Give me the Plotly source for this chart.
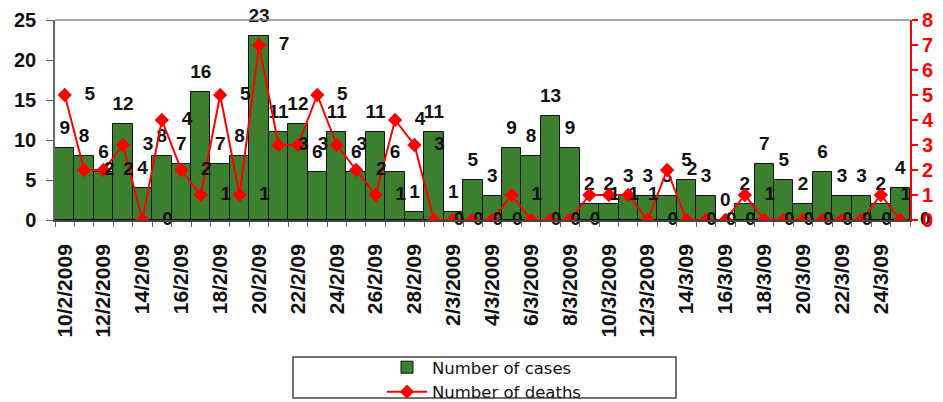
import plotly.graph_objects as go

# Jours du 10/2/2009 au 25/3/2009
dates = (
    [f"{d}/2/2009" for d in range(10, 29)]
    + [f"{d}/3/2009" for d in range(1, 26)]
)

cases = [9, 8, 6, 12, 4, 8, 7, 16, 7, 8, 23, 11, 12, 6, 11, 6, 11, 6, 1, 11,
         1, 5, 3, 9, 8, 13, 9, 2, 2, 3, 3, 3, 5, 3, 0, 2, 7, 5, 2, 6,
         3, 3, 2, 4]

deaths = [5, 2, 2, 3, 0, 4, 2, 1, 5, 1, 7, 3, 3, 5, 3, 2, 1, 4, 3, 0,
          0, 0, 0, 1, 0, 0, 0, 1, 1, 1, 0, 2, 0, 0, 0, 1, 0, 0, 0, 0,
          0, 0, 1, 0]

# libellés affichés (un jour sur deux)
tick_labels = ["10/2/2009", "12/2/2009", "14/2/09", "16/2/09", "18/2/09",
               "20/2/09", "22/2/09", "24/2/09", "26/2/09", "28/2/09",
               "2/3/2009", "4/3/2009", "6/3/2009", "8/3/2009", "10/3/2009",
               "12/3/2009", "14/3/09", "16/3/09", "18/3/09", "20/3/09",
               "22/3/09", "24/3/09"]

GREEN = "#3c7f2e"
RED = "#ff0000"
FONT = "Liberation Sans, Arial, sans-serif"

ticktext = []
for i in range(len(dates)):
    ticktext.append(tick_labels[i // 2] if i % 2 == 0 else "")

fig = go.Figure()

fig.add_trace(go.Bar(
    x=dates, y=cases, name="Number of cases",
    marker=dict(color=GREEN, line=dict(color="#111111", width=1)),
    yaxis="y",
))

fig.add_trace(go.Scatter(
    x=dates, y=deaths, name="Number of deaths", yaxis="y2",
    mode="lines+markers",
    line=dict(color=RED, width=2),
    marker=dict(symbol="diamond", size=11, color=RED),
))

# étiquettes des barres (au-dessus)
fig.add_trace(go.Scatter(
    x=dates, y=cases, yaxis="y", mode="text+markers",
    marker=dict(size=14, opacity=0),
    text=[str(v) for v in cases], textposition="top center",
    textfont=dict(family=FONT, size=19, color="#111111", weight="bold"),
    showlegend=False, hoverinfo="skip", cliponaxis=False,
))

# étiquettes des décès (à droite)
fig.add_trace(go.Scatter(
    x=dates, y=deaths, yaxis="y2", mode="text+markers",
    marker=dict(size=30, opacity=0),
    text=[str(v) for v in deaths], textposition="middle right",
    textfont=dict(family=FONT, size=19, color="#111111", weight="bold"),
    showlegend=False, hoverinfo="skip", cliponaxis=False,
))

# la page HTML ajoute 8 px de marge : figure réduite d'autant
fig.update_layout(
    width=935, height=394,
    margin=dict(l=47, r=33, t=12, b=182, autoexpand=False),
    plot_bgcolor="white", paper_bgcolor="white",
    bargap=0,
    font=dict(family=FONT, color="#111111"),
    xaxis=dict(
        type="category", tickmode="array", tickvals=dates, ticktext=ticktext,
        range=[-0.5, len(dates) - 0.5],
        tickson="boundaries", tickangle=-90, ticks="outside", ticklen=5,
        tickcolor="#666666", automargin=False, ticklabelstandoff=14,
        tickfont=dict(family=FONT, size=21, color="#111111", weight="bold"),
        showline=True, linecolor="#444444", linewidth=1.5, showgrid=False,
    ),
    yaxis=dict(
        range=[0, 25], dtick=5, ticks="outside", ticklen=7, automargin=False,
        tickcolor="#666666", showline=True, linecolor="#666666", linewidth=1.5,
        showgrid=False, zeroline=False, ticklabelstandoff=6,
        tickfont=dict(family=FONT, size=20, color="#111111", weight="bold"),
    ),
    yaxis2=dict(
        range=[0, 8], dtick=1, overlaying="y", side="right", automargin=False,
        ticks="outside", ticklen=6, tickcolor=RED, tickwidth=2,
        showline=True, linecolor=RED, linewidth=2,
        showgrid=False, zeroline=False,
        tickfont=dict(family=FONT, size=20, color=RED, weight="bold"),
    ),
    legend=dict(
        x=(382 - 55) / 855, y=-(350 - 220) / 200,
        xanchor="left", yanchor="top",
        bgcolor="rgba(0,0,0,0)", borderwidth=0,
        font=dict(family="DejaVu Sans, sans-serif", size=16.5, color="#111111"),
        tracegroupgap=0, itemwidth=40,
    ),
    shapes=[
        # bord supérieur de la zone de tracé
        dict(type="line", xref="paper", yref="paper", x0=0, x1=1, y0=1, y1=1,
             line=dict(color="#888888", width=1.5)),
        # cadre de la légende
        dict(type="rect", xref="paper", yref="paper",
             x0=(293 - 55) / 855, x1=(676 - 55) / 855,
             y0=-(398 - 220) / 200, y1=-(357 - 220) / 200,
             line=dict(color="#444444", width=1.5)),
    ],
)

fig.write_html("out.html")
